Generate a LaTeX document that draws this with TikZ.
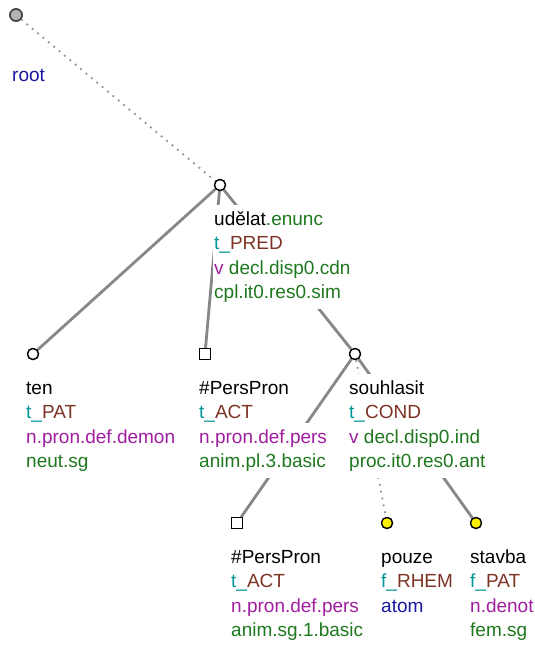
\documentclass[tikz,border=0pt]{standalone}
\usepackage{fontspec}
\setmainfont{Liberation Sans}
\definecolor{fteal}{RGB}{0,150,150}
\definecolor{fbrown}{RGB}{125,52,38}
\definecolor{fpurple}{RGB}{160,30,160}
\definecolor{fgreen}{RGB}{30,120,30}
\definecolor{fblue}{RGB}{25,25,160}
\definecolor{edgegray}{RGB}{135,135,135}
\newcommand{\tl}[1]{\textcolor{fteal}{#1}}
\newcommand{\br}[1]{\textcolor{fbrown}{#1}}
\newcommand{\pu}[1]{\textcolor{fpurple}{#1}}
\newcommand{\gr}[1]{\textcolor{fgreen}{#1}}
\newcommand{\bl}[1]{\textcolor{fblue}{#1}}
% one text line on its own white background (covers connectors behind it)
\newcommand{\wl}[1]{\smash{\setlength{\fboxsep}{0pt}\colorbox{white}{\kern1pt\rule[-10pt]{0pt}{30pt}#1\kern1pt}}}
\tikzset{
  tnode/.style={circle,draw=black,line width=1.3pt,fill=white,minimum size=11pt,inner sep=0pt},
  rootnode/.style={circle,draw=black!75,line width=1.5pt,fill=black!30,minimum size=12pt,inner sep=0pt},
  sqnode/.style={rectangle,draw=black,line width=1.3pt,fill=white,minimum size=10.5pt,inner sep=0pt},
  ynode/.style={circle,draw=black,line width=1.3pt,fill=yellow,minimum size=11pt,inner sep=0pt},
  solidedge/.style={draw=edgegray,line width=2.8pt},
  dotedge/.style={draw=edgegray!90,line width=1.8pt,dash pattern=on 1.8pt off 5.2pt},
  lbl/.style={anchor=base west,align=left,inner sep=0pt,font=\fontsize{19}{24.6}\selectfont}
}
\begin{document}
\begin{tikzpicture}[x=1pt,y=-1pt]
\useasboundingbox (0,0) rectangle (535,648);
% nodes
\node[rootnode] (root) at (16,15) {};
\node[tnode] (udelat) at (220,185) {};
\node[tnode] (ten) at (33,354) {};
\node[sqnode] (pp1) at (205,354) {};
\node[tnode] (souh) at (355,354) {};
\node[sqnode] (pp2) at (237,523) {};
\node[ynode] (pouze) at (387,523) {};
\node[ynode] (stavba) at (476,523) {};
% edges
\draw[dotedge] (root) -- (udelat);
\draw[solidedge] (udelat) -- (ten);
\draw[solidedge] (udelat) -- (pp1);
\draw[solidedge] (udelat) -- (souh);
\draw[solidedge] (souh) -- (pp2);
\draw[dotedge] (souh) -- (pouze);
\draw[solidedge] (souh) -- (stavba);
% redraw node shapes on top of edge ends
\node[rootnode] at (root) {};
\node[tnode] at (udelat) {};
\node[tnode] at (ten) {};
\node[sqnode] at (pp1) {};
\node[tnode] at (souh) {};
\node[sqnode] at (pp2) {};
\node[ynode] at (pouze) {};
\node[ynode] at (stavba) {};
% labels (anchored at the baseline of their last line)
\node[lbl] (lroot) at (11,81) {\wl{\bl{root}}};
\node[lbl] (ludelat) at (213,298.8) {\wl{udělat\gr{.enunc}}\\\wl{\tl{t\_}\br{PRED}}\\\wl{\pu{v} \gr{decl.disp0.cdn}}\\\wl{\gr{cpl.it0.res0.sim}}};
\node[lbl] (lten) at (25,467.8) {\wl{ten}\\\wl{\tl{t\_}\br{PAT}}\\\wl{\pu{n.pron.def.demon}}\\\wl{\gr{neut.sg}}};
\node[lbl] (lpp1) at (198,467.8) {\wl{\#PersPron}\\\wl{\tl{t\_}\br{ACT}}\\\wl{\pu{n.pron.def.pers}}\\\wl{\gr{anim.pl.3.basic}}};
\node[lbl] (lsouh) at (348,467.8) {\wl{souhlasit}\\\wl{\tl{t\_}\br{COND}}\\\wl{\pu{v} \gr{decl.disp0.ind}}\\\wl{\gr{proc.it0.res0.ant}}};
\node[lbl] (lpp2) at (230,636.8) {\wl{\#PersPron}\\\wl{\tl{t\_}\br{ACT}}\\\wl{\pu{n.pron.def.pers}}\\\wl{\gr{anim.sg.1.basic}}};
\node[lbl] (lpouze) at (380,612.2) {\wl{pouze}\\\wl{\tl{f\_}\br{RHEM}}\\\wl{\bl{atom}}};
\node[lbl] (lstavba) at (469,636.8) {\wl{stavba}\\\wl{\tl{f\_}\br{PAT}}\\\wl{\pu{n.denot}}\\\wl{\gr{fem.sg}}};
\end{tikzpicture}
\end{document}
